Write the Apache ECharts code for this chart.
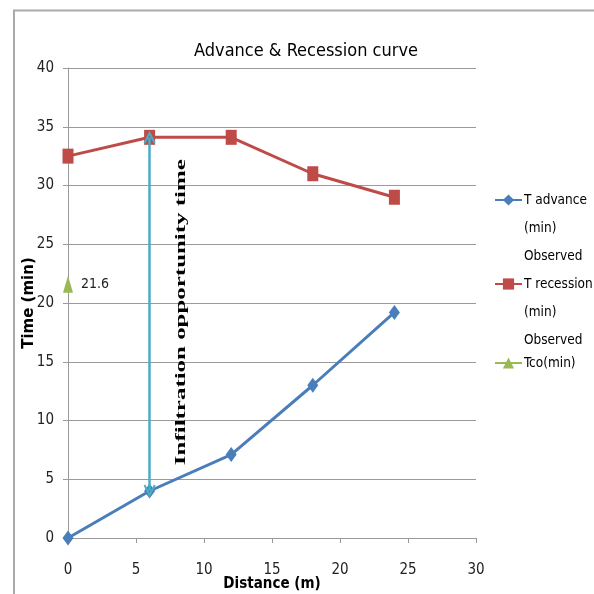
<!DOCTYPE html>
<html>
<head>
<meta charset="utf-8">
<script src="https://cdn.jsdelivr.net/npm/echarts@6/dist/echarts.min.js"></script>
<style>
  html, body { margin: 0; padding: 0; background: #fff; }
  #chart { width: 594px; height: 594px; }
</style>
</head>
<body>
<div id="chart"></div>
<script>
// Distance along the furrow (m) and observed times (min)
const distance = [0, 6, 12, 18, 24];
const tAdvance = [0, 4, 7.1, 13, 19.2];
const tRecession = [32.5, 34.1, 34.1, 31, 29];
const tcoPoint = [0, 21.6];

// Opportunity-time span shown at the 6 m station
const opportunityAt = 6;
const opportunityFrom = 4;
const opportunityTo = 34.1;

const xTicks = { min: 0, max: 30, interval: 5 };
const yTicks = { min: 0, max: 40, interval: 5 };

const names = ['T advance (min) Observed', 'T recession (min) Observed', 'Tco(min)'];
// Blank leading lines keep the legend marker beside the first line of text
const legendText = {
  'T advance (min) Observed': '\n\nT advance\n(min)\nObserved',
  'T recession (min) Observed': '\n\nT recession\n(min)\nObserved',
  'Tco(min)': 'Tco(min)'
};

const FONT = '"DejaVu Sans Condensed", Lato, sans-serif';
const chevron = 'path://M5,0 L10,9 L8.6,9.8 L5,3.4 L1.4,9.8 L0,9 Z';

const chart = echarts.init(document.getElementById('chart'), null, { renderer: 'canvas' });

function legendFor(name, top) {
  return {
    data: [name],
    orient: 'vertical',
    left: 494,
    top: top,
    padding: 0,
    itemWidth: 27,
    itemHeight: 14,
    itemGap: 0,
    formatter: n => legendText[n],
    textStyle: {
      fontFamily: FONT,
      fontSize: 13.5,
      color: '#000',
      lineHeight: 28,
      padding: [0, 0, 0, -3]
    }
  };
}

const borderLines = [
  { type: 'line', shape: { x1: 14, y1: 10, x2: 14, y2: 594 }, style: { stroke: '#a9a9a9', lineWidth: 2 } },
  { type: 'line', shape: { x1: 13, y1: 10.5, x2: 594, y2: 10.5 }, style: { stroke: '#a9a9a9', lineWidth: 2 } }
];

chart.setOption({
  animation: false,
  backgroundColor: '#fff',
  title: {
    text: 'Advance & Recession curve',
    left: 301,
    textAlign: 'center',
    top: 37,
    textStyle: { fontFamily: FONT, fontSize: 18, fontWeight: 'normal', color: '#000' }
  },
  legend: [
    legendFor(names[0], 130),
    legendFor(names[1], 214),
    legendFor(names[2], 349)
  ],
  grid: { left: 68, right: 118, top: 68, bottom: 56, containLabel: false, outerBoundsMode: 'none' },
  xAxis: {
    type: 'value',
    min: xTicks.min, max: xTicks.max, interval: xTicks.interval,
    name: 'Distance (m)',
    nameLocation: 'middle',
    nameGap: 39,
    nameMoveOverlap: false,
    nameTextStyle: { fontFamily: FONT, fontSize: 15, fontWeight: 'bold', color: '#000' },
    axisLine: { lineStyle: { color: '#9a9a9a', width: 1 } },
    axisTick: { show: true, length: 5, lineStyle: { color: '#9a9a9a' } },
    axisLabel: { margin: 25, fontFamily: FONT, fontSize: 15, color: '#222' },
    splitLine: { show: false }
  },
  yAxis: {
    type: 'value',
    min: yTicks.min, max: yTicks.max, interval: yTicks.interval,
    name: 'Time (min)',
    nameLocation: 'middle',
    nameGap: 31,
    nameMoveOverlap: false,
    nameTextStyle: { fontFamily: 'Verdana, "DejaVu Sans", sans-serif', fontSize: 15, fontWeight: 'bold', color: '#000' },
    axisLine: { show: true, lineStyle: { color: '#9a9a9a', width: 1 } },
    axisTick: { show: true, length: 5, lineStyle: { color: '#9a9a9a' } },
    axisLabel: { margin: 14, fontFamily: FONT, fontSize: 15, color: '#222' },
    splitLine: { show: true, lineStyle: { color: '#9a9a9a', width: 1 } }
  },
  series: [
    {
      name: names[0],
      type: 'line',
      data: distance.map((d, i) => [d, tAdvance[i]]),
      symbol: 'diamond',
      symbolSize: [11, 15],
      color: '#4a7ebb',
      lineStyle: { width: 3, color: '#4a7ebb' },
      itemStyle: { color: '#4a7ebb' },
      z: 3
    },
    {
      name: names[1],
      type: 'line',
      data: distance.map((d, i) => [d, tRecession[i]]),
      symbol: 'rect',
      symbolSize: [11, 15],
      color: '#be4b48',
      lineStyle: { width: 3, color: '#be4b48' },
      itemStyle: { color: '#be4b48' },
      z: 3
    },
    {
      name: names[2],
      type: 'line',
      data: [tcoPoint],
      symbol: 'triangle',
      symbolSize: [10, 17],
      color: '#98b954',
      lineStyle: { width: 3, color: '#98b954' },
      itemStyle: { color: '#98b954' },
      label: {
        show: true,
        position: 'right',
        distance: 8,
        formatter: p => p.value[1],
        fontFamily: FONT,
        fontSize: 14,
        color: '#222'
      },
      z: 3
    },
    {
      name: 'Infiltration opportunity time',
      type: 'line',
      data: [],
      silent: true,
      markLine: {
        silent: true,
        symbol: [chevron, chevron],
        symbolSize: [12, 13],
        label: { show: false },
        lineStyle: { color: '#4bacc6', width: 2.5, type: 'solid' },
        data: [[
          { coord: [opportunityAt, opportunityFrom] },
          { coord: [opportunityAt, opportunityTo] }
        ]]
      },
      z: 2
    }
  ],
  graphic: borderLines
});

// Vertical caption beside the opportunity-time arrow
const mid = chart.convertToPixel({ gridIndex: 0 }, [opportunityAt, (opportunityFrom + opportunityTo) / 2]);
chart.setOption({
  graphic: borderLines.concat([
    {
      type: 'text',
      x: mid[0] + 32,
      y: mid[1] - 2,
      rotation: Math.PI / 2,
      scaleX: 1.78,
      style: {
        text: 'Infiltration opportunity time',
        font: 'bold 14px "Liberation Serif", "Times New Roman", serif',
        fill: '#000',
        align: 'center',
        verticalAlign: 'middle'
      },
      z: 10
    }
  ])
});
</script>
</body>
</html>
